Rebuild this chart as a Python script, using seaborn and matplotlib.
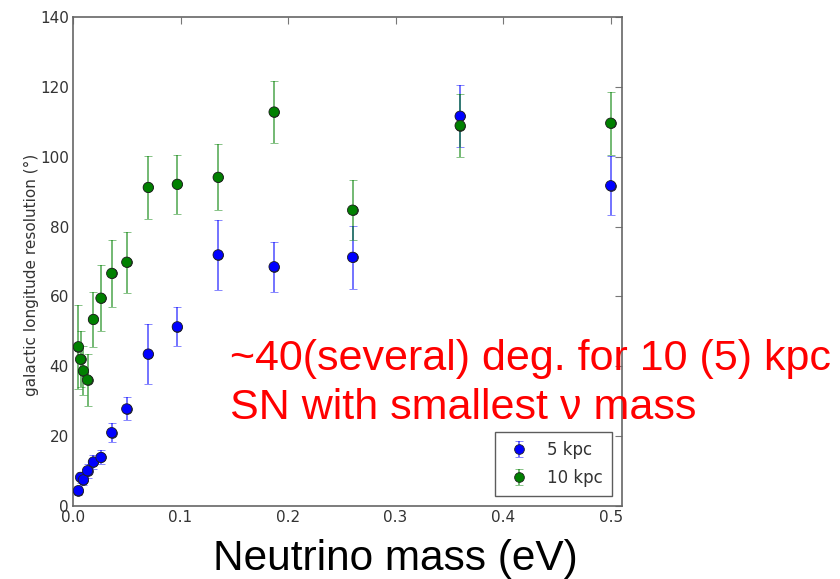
import numpy as np
import pandas as pd
import matplotlib
matplotlib.use("Agg")
import matplotlib.pyplot as plt
import seaborn as sns

# ---- data ----
mass = [0.005, 0.007, 0.0097, 0.0135, 0.019, 0.026, 0.036, 0.05, 0.07,
        0.097, 0.135, 0.187, 0.26, 0.36, 0.5]
res_5kpc = [4.4, 8.2, 7.5, 10.1, 12.6, 13.9, 21.0, 27.8, 43.5,
            51.3, 71.9, 68.5, 71.2, 111.6, 91.7]
err_5kpc = [1.2, 1.5, 1.5, 2.0, 2.0, 2.0, 2.8, 3.3, 8.7,
            5.6, 10.0, 7.2, 9.0, 8.8, 8.5]
res_10kpc = [45.6, 42.0, 38.7, 36.1, 53.4, 59.5, 66.6, 69.8, 91.2,
             92.1, 94.1, 112.8, 84.7, 108.9, 109.6]
err_10kpc = [12.0, 8.0, 7.0, 7.5, 8.0, 9.5, 9.5, 8.7, 9.0,
             8.4, 9.4, 8.8, 8.5, 9.0, 9.0]
labels = ["5 kpc", "10 kpc"]
colors = ["#0000ff", "#008000"]
xticks = [0.0, 0.1, 0.2, 0.3, 0.4, 0.5]
yticks = [0, 20, 40, 60, 80, 100, 120, 140]

sns.set_theme(style="white")
plt.rcParams["font.family"] = ["DejaVu Sans"]

fig = plt.figure(figsize=(8.4, 5.79), dpi=100)
ax = fig.add_axes([73/840, 1-506/579, (622-73)/840, (506-17)/579])

df = pd.DataFrame({
    "mass": mass * 2,
    "res": res_5kpc + res_10kpc,
    "err": err_5kpc + err_10kpc,
    "series": [labels[0]] * len(mass) + [labels[1]] * len(mass),
})

handles = []
for lab, col in zip(labels, colors):
    sub = df[df["series"] == lab]
    eb = ax.errorbar(sub["mass"], sub["res"], yerr=sub["err"], fmt="o",
                     color=col, ecolor=col, elinewidth=1.4, capsize=3,
                     capthick=1.0, markersize=7, markeredgecolor="#222222",
                     markeredgewidth=0.6, label=lab, zorder=3)
    for art in eb[1] + eb[2]:
        art.set_alpha(0.55)
    handles.append(eb)

sns.scatterplot(data=df, x="mass", y="res", hue="series", palette=colors,
                s=55, edgecolor="#222222", linewidth=0.6, ax=ax,
                legend=False, zorder=4)

ax.set_xlim(0, 0.5105)
ax.set_ylim(0, 140)
ax.set_xticks(xticks)
ax.set_xticklabels([f"{t:.1f}" for t in xticks])
ax.set_yticks(yticks)
ax.set_yticklabels([str(t) for t in yticks])
ax.set_xlabel("")
ax.set_ylabel("galactic longitude resolution (°)", fontsize=11, color="#333333")
ax.yaxis.set_label_coords(-0.062, 0.472)
ax.tick_params(direction="in", top=True, right=True, length=5, width=0.8,
               color="#777777", labelsize=11, labelcolor="#333333", pad=3)
for sp in ax.spines.values():
    sp.set_color("#666666")
    sp.set_linewidth(1.2)

leg = ax.legend(handles=handles, labels=labels, loc="lower right",
                fontsize=12, frameon=True, fancybox=False,
                borderaxespad=0.6, handletextpad=0.8, borderpad=0.55,
                labelspacing=0.6, handlelength=1.8)
leg.get_frame().set_edgecolor("#333333")
leg.get_frame().set_linewidth(1.0)
for t in leg.get_texts():
    t.set_color("#333333")

fig.text(230/840, 1-370/579, "~40(several) deg. for 10 (5) kpc",
         color="red", fontsize=31, family="Liberation Sans", va="baseline")
fig.text(230/840, 1-419/579, "SN with smallest ν mass",
         color="red", fontsize=31, family="Liberation Sans", va="baseline")
fig.text(395/840, 1-570/579, "Neutrino mass (eV)", color="black",
         fontsize=30.5, family="Liberation Sans", ha="center", va="baseline")

fig.savefig("out.png", dpi=100)
